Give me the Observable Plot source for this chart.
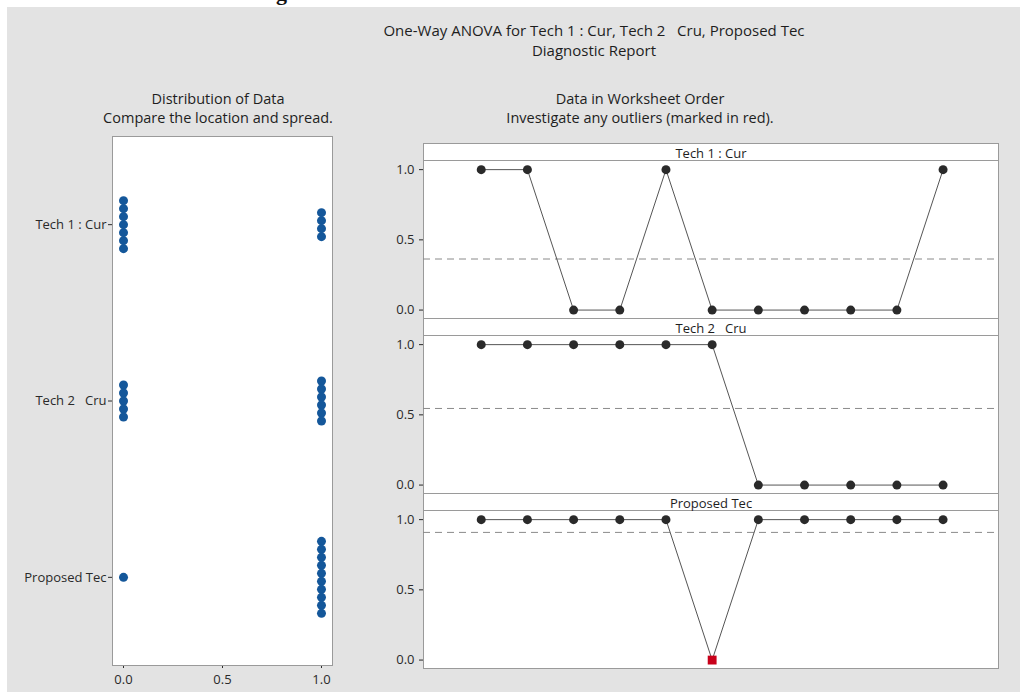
<!DOCTYPE html>
<html><head><meta charset="utf-8">
<script src="https://cdn.jsdelivr.net/npm/d3@7"></script>
<script src="https://cdn.jsdelivr.net/npm/@observablehq/plot@0.6"></script>
<style>
html,body{margin:0;padding:0;background:#fff;}
body{width:1020px;height:693px;position:relative;overflow:hidden;font-family:"Open Sans",sans-serif;}
#bg{position:absolute;left:7px;top:7px;right:0;bottom:1px;background:#e3e3e3;}
.t{position:absolute;white-space:pre;color:#1e1e1e;text-align:center;transform:translateX(-50%);}
svg text{white-space:pre;}
#left,#right{position:absolute;}
#peek{position:absolute;left:270px;top:0;width:30px;height:6px;overflow:hidden;}
#peek span{position:absolute;left:6px;top:-20px;font:bold 22px "Liberation Serif",serif;color:#111;}
</style></head><body>
<div id="bg"></div>
<div id="peek"><span>g</span></div>
<div class="t" style="left:594px;top:20px;font-size:15px;line-height:20px">One-Way ANOVA for Tech 1 : Cur, Tech 2   Cru, Proposed Tec<br>Diagnostic Report</div>
<div class="t" style="left:218px;top:89px;font-size:14.5px;line-height:19px">Distribution of Data<br>Compare the location and spread.</div>
<div class="t" style="left:640px;top:89px;font-size:14.5px;line-height:19px">Data in Worksheet Order<br>Investigate any outliers (marked in red).</div>
<div id="left"></div>
<div id="right"></div>
<script>
// ---- data ----
const groups = ["Tech 1 : Cur", "Tech 2   Cru", "Proposed Tec"];
const tech1 = [1, 1, 0, 0, 1, 0, 0, 0, 0, 0, 1];
const tech2 = [1, 1, 1, 1, 1, 1, 0, 0, 0, 0, 0];
const proposed = [1, 1, 1, 1, 1, 0, 1, 1, 1, 1, 1];
const outlierObs = {"Proposed Tec": [6]};   // observations flagged red
const leftXTicks = [0, 0.5, 1];
const rightYTicks = [0, 0.5, 1];

const series = [tech1, tech2, proposed];
const data = series.flatMap((vals, gi) => vals.map((v, i) => ({
  group: groups[gi], gi, obs: i + 1, value: v,
  outlier: (outlierObs[groups[gi]] || []).includes(i + 1)
})));

// ---- left: distribution (stacked dots) ----
const LEFT_FRAME_H = 529, STACK_PX = 8;
const unit = LEFT_FRAME_H / groups.length;
for (const [, byVal] of d3.group(data, d => d.gi, d => d.value)) {
  for (const [, arr] of byVal) {
    const n = arr.length;
    arr.forEach((d, k) => { d.ys = d.gi + (k - (n - 1) / 2) * STACK_PX / unit; });
  }
}
const fmt = d3.format(".1f");
const font = {background: "transparent", fontSize: "13px", fontFamily: "'Open Sans', sans-serif", color: "#2a2a2a"};

const left = Plot.plot({
  width: 342, height: 564, marginLeft: 112, marginRight: 10, marginTop: 10, marginBottom: 25,
  style: font,
  x: {domain: [-0.0556, 1.0556], ticks: leftXTicks, tickFormat: fmt, tickSize: 3, label: null},
  y: {domain: [groups.length - 0.5, -0.5], ticks: d3.range(groups.length), tickFormat: i => groups[i], tickSize: 4, tickPadding: 2, label: null},
  marks: [
    Plot.frame({fill: "white", stroke: "#9a9a9a"}),
    Plot.dot(data, {x: "value", y: "ys", r: 4.5, fill: "#14579a"})
  ]
});
const L = document.getElementById("left");
L.style.left = "0px"; L.style.top = "126px";
L.append(left);

// ---- right: worksheet order ----
const STRIP = 17;
const right = Plot.plot({
  width: 640, height: 540, marginLeft: 53, marginRight: 12, marginTop: 5, marginBottom: 10,
  style: font,
  x: {domain: [-0.25, 12.2], axis: null},
  y: {domain: [-0.06, 1.065], insetTop: STRIP, ticks: rightYTicks, tickFormat: fmt, tickSize: 4, label: null},
  fy: {domain: groups, padding: 0, axis: null, label: null},
  marks: [
    Plot.frame({fill: "white", stroke: "#9a9a9a"}),
    Plot.frame({insetTop: STRIP, stroke: "#9a9a9a"}),
    Plot.text(groups, {fy: d => d, text: d => d, frameAnchor: "top", dy: 5, fontSize: 13, fill: "#1e1e1e"}),
    Plot.ruleY(data, Plot.groupZ({y: "mean"}, {y: "value", fy: "group", stroke: "#8a8a8a", strokeDasharray: "7,5"})),
    Plot.line(data, {x: "obs", y: "value", fy: "group", stroke: "#555", strokeWidth: 1}),
    Plot.dot(data.filter(d => !d.outlier), {x: "obs", y: "value", fy: "group", r: 4.5, fill: "#2a2a2a"}),
    Plot.dot(data.filter(d => d.outlier), {x: "obs", y: "value", fy: "group", symbol: "square", r: 5, fill: "#c8001a"})
  ]
});
const R = document.getElementById("right");
R.style.left = "370px"; R.style.top = "138px";
R.append(right);
</script>
</body></html>
